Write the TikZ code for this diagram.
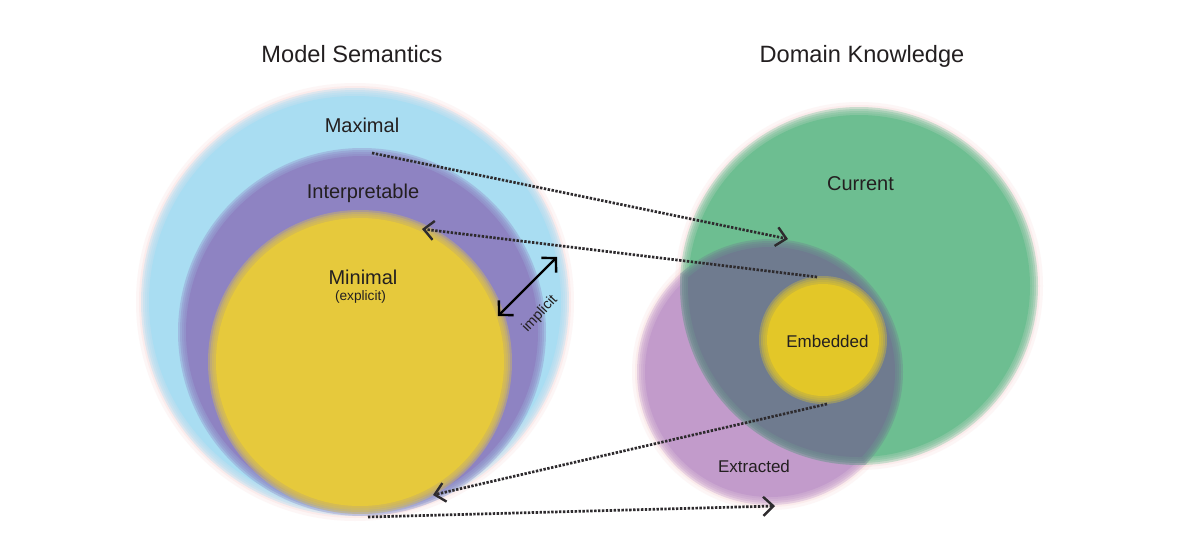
\documentclass[tikz,border=0pt]{standalone}
\usepackage{fontspec}
\setmainfont{Liberation Sans}
\usetikzlibrary{arrows.meta}
\definecolor{cyanC}{HTML}{A9DDF2}
\definecolor{interpC}{HTML}{8E83C2}
\definecolor{minC}{HTML}{E6C93C}
\definecolor{greenC}{HTML}{6DBE91}
\definecolor{extrC}{HTML}{C29BCB}
\definecolor{slateC}{HTML}{6F7B8F}
\definecolor{embC}{HTML}{E3C728}
\definecolor{haloC}{HTML}{F6CFCF}
\definecolor{txtC}{HTML}{231F20}
\definecolor{dotC}{HTML}{2E2B2E}
\newcommand\halodisk[2]{%
  \fill[haloC,opacity=.18] (#1) circle[radius={(#2+9)*1pt}];
  \fill[haloC,opacity=.25] (#1) circle[radius={(#2+6)*1pt}];
}
\newcommand\softdisk[3]{%
  \fill[#3,opacity=.35] (#1) circle[radius={(#2+4)*1pt}];
  \fill[#3,opacity=.35] (#1) circle[radius={(#2+2)*1pt}];
  \fill[#3,opacity=.35] (#1) circle[radius={(#2)*1pt}];
  \fill[#3,opacity=.35] (#1) circle[radius={(#2-2)*1pt}];
  \fill[#3] (#1) circle[radius={(#2-4)*1pt}];
}
\newcommand\lenspart[6]{% clip centre, clip radius, fill centre, fill radius, colour, opacity
  \begin{scope}
    \clip (#1) circle[radius={(#2)*1pt}];
    \fill[#5,opacity=#6] (#3) circle[radius={(#4)*1pt}];
  \end{scope}
}
\tikzset{
  title/.style={text=txtC,anchor=base,inner sep=0pt,font=\fontsize{23.6}{28}\selectfont},
  lab/.style={text=txtC,anchor=base,inner sep=0pt,font=\fontsize{20}{24}\selectfont},
  slab/.style={text=txtC,anchor=base,inner sep=0pt,font=\fontsize{17}{20}\selectfont},
  tlab/.style={text=txtC,anchor=base,inner sep=0pt,font=\fontsize{13.7}{16}\selectfont},
  dotarrow/.style={draw=dotC,line width=2.7pt,dash pattern=on 2.4pt off 1.5pt,
    -{Straight Barb[length=10pt,width=19pt,line width=2.4pt]}},
  solidarrow/.style={draw=black,line width=2.4pt,
    {Straight Barb[length=10pt,width=21pt,line width=2.4pt]}-{Straight Barb[length=10pt,width=21pt,line width=2.4pt]}}
}
\begin{document}
\begin{tikzpicture}[x=1pt,y=-1pt]
\useasboundingbox[fill=white] (0,0) rectangle (1200,546);
% centres
\coordinate (cC) at (355,302);
\coordinate (cI) at (362,332);
\coordinate (cM) at (360,362);
\coordinate (cG) at (859,286);
\coordinate (cE) at (770,372);
\coordinate (cB) at (823,340);
% halos
\halodisk{cC}{210}
\halodisk{cG}{175}
\halodisk{cE}{129}
% left circles
\softdisk{cC}{210}{cyanC}
\softdisk{cI}{180}{interpC}
\softdisk{cM}{148}{minC}
% right circles
\softdisk{cE}{129}{extrC}
\softdisk{cG}{175}{greenC}
\lenspart{cE}{133}{cG}{179}{slateC}{.35}
\lenspart{cE}{131}{cG}{177}{slateC}{.35}
\lenspart{cE}{129}{cG}{175}{slateC}{.35}
\lenspart{cE}{127}{cG}{173}{slateC}{.35}
\lenspart{cE}{125}{cG}{171}{slateC}{1}
\softdisk{cB}{60}{embC}
% titles and labels
\node[title] (tMS) at (352,62) {Model Semantics};
\node[title] (tDK) at (862,62) {Domain Knowledge};
\node[lab] (lMax) at (362,132) {Maximal};
\node[lab] (lInt) at (363,198) {Interpretable};
\node[lab] (lMin) at (363,284) {Minimal};
\node[tlab] (lExp) at (360.5,300) {(explicit)};
\node[lab] (lCur) at (860.5,190) {Current};
\node[slab] (lEmb) at (827.5,347) {Embedded};
\node[slab] (lExt) at (754,472) {Extracted};
\node[text=txtC,inner sep=0pt,rotate=47,font=\fontsize{14.5}{17}\selectfont] (lImp) at (540,314) {implicit};
% arrow end points
\coordinate (a1s) at (372,153);
\coordinate (a1e) at (788,239);
\coordinate (a2s) at (817,277);
\coordinate (a2e) at (422,229);
\coordinate (a3s) at (827,404);
\coordinate (a3e) at (433,495);
\coordinate (a4s) at (368,517);
\coordinate (a4e) at (775,506);
\coordinate (i1) at (498,316);
\coordinate (i2) at (557,257);
\draw[dotarrow] (a1s) -- (a1e);
\draw[dotarrow] (a2s) -- (a2e);
\draw[dotarrow] (a3s) -- (a3e);
\draw[dotarrow] (a4s) -- (a4e);
\draw[solidarrow] (i1) -- (i2);
\end{tikzpicture}
\end{document}
